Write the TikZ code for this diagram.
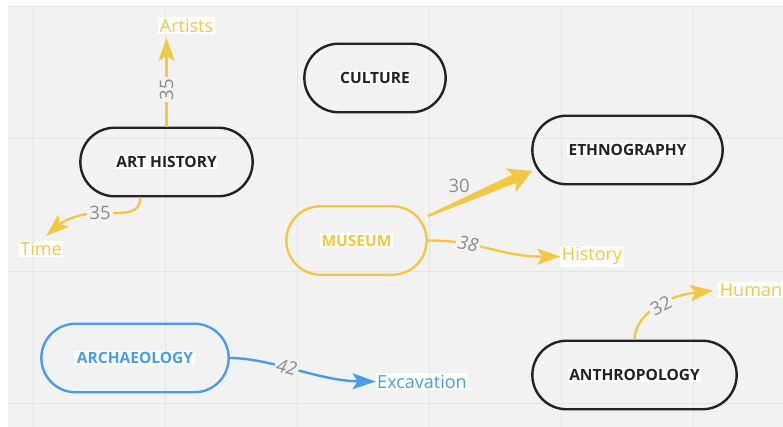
\documentclass[tikz,border=0pt]{standalone}
\usepackage{fontspec}
\setmainfont{Open Sans}
\usepackage{tikz}
\usetikzlibrary{shapes,arrows.meta,calc}
\definecolor{canvas}{HTML}{F2F2F2}
\definecolor{gridline}{HTML}{E4E4E4}
\definecolor{gold}{HTML}{F2C744}
\definecolor{sky}{HTML}{4A9BE8}
\definecolor{ink}{HTML}{222222}
\definecolor{weight}{HTML}{8C8C8C}
\newcommand{\onwhite}[1]{{\setlength{\fboxsep}{1.5pt}\colorbox{white}{#1}}}

\begin{document}
\begin{tikzpicture}[x=1pt,y=-1pt]
    \tikzstyle{topic} = [rounded rectangle, draw=ink, line width=2.4pt, minimum height=68.5pt, text=ink, font=\fontsize{15.5}{18}\selectfont\bfseries]
    \tikzstyle{leaf} = [fill=white, inner sep=1.5pt, font=\fontsize{18}{21}\selectfont]
    \tikzstyle{wt} = [fill=canvas, inner sep=2pt, text=weight, font=\fontsize{18.5}{21}\selectfont]
    \tikzstyle{link} = [line width=2.4pt, -{Stealth[length=23pt,width=16pt,inset=5pt]}]

    \useasboundingbox (0,0) rectangle (783,427);
    \fill[white] (0,0) rectangle (783,427);
    \fill[canvas] (8,7) rectangle (783,427);
    \foreach \gx in {33,165,297,429,561,693}
        \draw[gridline, line width=1pt] (\gx,7) -- (\gx,427);
    \foreach \gy in {7,139,271,403}
        \draw[gridline, line width=1pt] (8,\gy) -- (783,\gy);

    \node[topic, minimum width=179pt] (arthist) at (166.5,162) {\onwhite{ART HISTORY}};
    \node[topic, minimum width=148pt] (culture) at (375,78) {\onwhite{CULTURE}};
    \node[topic, minimum width=197pt] (ethno) at (627.5,150) {\onwhite{ETHNOGRAPHY}};
    \node[topic, draw=gold, text=gold, minimum width=147pt] (museum) at (356.5,240.5) {\onwhite{MUSEUM}};
    \node[topic, draw=sky, text=sky, minimum width=194pt] (archaeo) at (135,358) {\onwhite{ARCHAEOLOGY}};
    \node[topic, minimum width=211pt] (anthro) at (634.5,375) {\onwhite{ANTHROPOLOGY}};

    \node[leaf, text=gold] (artists) at (186.5,25.5) {Artists};
    \node[leaf, text=gold] (time) at (41,249) {Time};
    \node[leaf, text=gold] (history) at (592,256.5) {History};
    \node[leaf, text=gold] (human) at (751,290) {Human};
    \node[leaf, text=sky] (excav) at (422,381.5) {Excavation};

    \draw[link, gold, shorten >=4pt] (arthist.north) -- (arthist.north |- artists.south)
        node[wt, pos=0.4, rotate=90] {35};
    \draw[link, gold, shorten >=7pt] ($(arthist.south)+(-26,0)$) .. controls +(0,18) and (122,213) .. (100,213)
        node[wt] {35} .. controls (78,213) and (62,222) .. (time.north);
    \draw[link, gold] (museum.east) .. controls (480,240) and (500,257) .. (history.west)
        node[wt, pos=0.3, sloped] {\itshape 38};
    \draw[link, gold, shorten >=5pt] (anthro.north) .. controls (635,315) and (665,296) .. (human.west)
        node[wt, pos=0.55, sloped] {32};
    \draw[link, sky] (archaeo.east) .. controls (270,358) and (320,381) .. (excav.west)
        node[wt, pos=0.43, sloped] {\itshape 42};

    \coordinate (mu-out) at ($(museum.east)+(0,-24.5)$);
    \coordinate (et-in) at ($(ethno.west)+(1,21)$);
    \fill[gold] ($(mu-out)!1.2pt!90:(et-in)$) -- ($(mu-out)!94pt!(et-in)!4.5pt!90:(et-in)$)
        -- ($(mu-out)!90pt!(et-in)!13pt!90:(et-in)$) -- (et-in)
        -- ($(mu-out)!90pt!(et-in)!13pt!-90:(et-in)$) -- ($(mu-out)!94pt!(et-in)!4.5pt!-90:(et-in)$)
        -- ($(mu-out)!1.2pt!-90:(et-in)$) -- cycle;
    \path (mu-out) -- (et-in) node[wt, fill=none, pos=0.3, above=8pt] (w30) {30};
\end{tikzpicture}
\end{document}
